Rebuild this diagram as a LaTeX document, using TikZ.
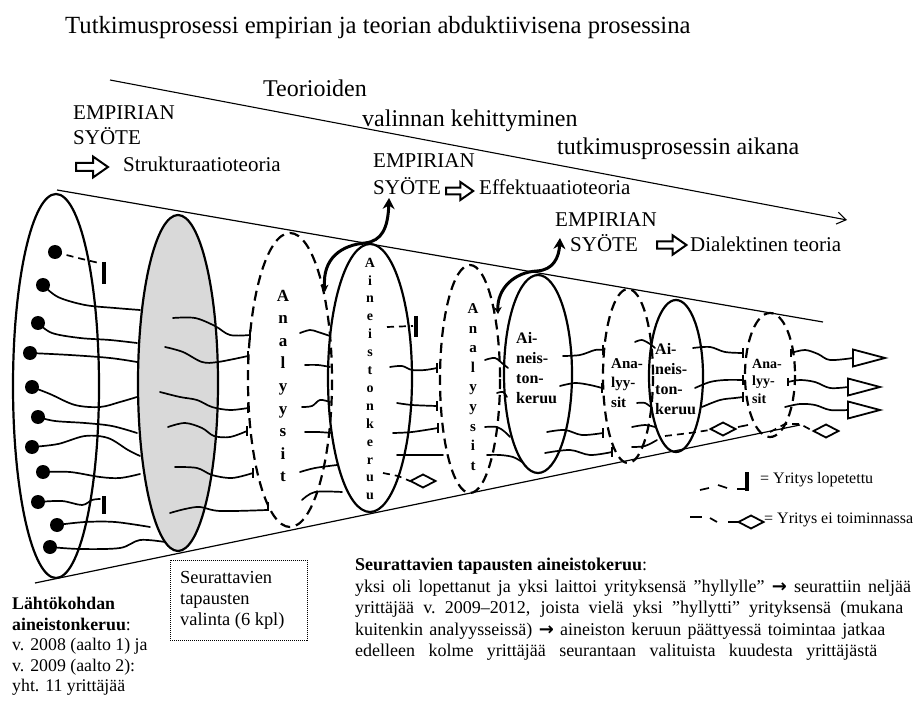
\documentclass[tikz,border=0pt]{standalone}
\usepackage{fontspec}
\setmainfont{Liberation Serif}
\newfontfamily\djv{DejaVu Sans}
\usetikzlibrary{arrows.meta}
\newcommand\fsz[2]{\fontsize{#1}{#2}\selectfont}
\newcommand\wigline[1]{\draw[wig] plot[smooth,tension=0.55] coordinates {#1};}
\newcommand\barrow{{\djv\bfseries\fontsize{18}{18}\selectfont →}}
\newcommand\jline[2][556pt]{\makebox[#1][s]{#2}}
\begin{document}
\begin{tikzpicture}[x=1pt,y=-1pt,
  cone/.style={line width=1.2pt},
  sell/.style={line width=2.2pt},
  dell/.style={line width=2.2pt, dash pattern=on 10pt off 6pt},
  wig/.style={line width=1.7pt, line cap=round, line join=round},
  dwig/.style={line width=1.7pt, dash pattern=on 7pt off 5pt},
  tbar/.style={line width=1.7pt},
  hbar/.style={line width=3.5pt},
  curv/.style={line width=3pt, {Stealth[length=7pt,width=8pt]}-{Stealth[length=11pt,width=12pt]}},
  lbl/.style={anchor=base west, inner sep=0pt, font=\fsz{21}{25}},
  big/.style={anchor=base west, inner sep=0pt, font=\fsz{24}{28}},
  diam/.pic={\draw[line width=1.8pt, line join=miter] (-12.5,0)--(0,-6.5)--(12.5,0)--(0,6.5)--cycle;},
  tri/.pic={\draw[line width=1.8pt, line join=miter] (0,-8.5)--(32,0)--(0,8.5)--cycle;},
  barr/.pic={\draw[line width=2pt, line join=miter] (0,-4)--(17,-4)--(17,-10.5)--(32,0)--(17,10.5)--(17,4)--(0,4)--cycle;}
]
\useasboundingbox (0,0) rectangle (921,703);

% title
\node[anchor=base west, inner sep=0pt, font=\fsz{24.7}{30}] (title) at (65,34) {Tutkimusprosessi empirian ja teorian abduktiivisena prosessina};

% top arrow and cone lines
\coordinate (ta0) at (110,80); \coordinate (ta1) at (847,220);
\draw[line width=1.1pt, -{Straight Barb[length=9pt,width=12pt]}] (ta0) -- (ta1);
\coordinate (cu0) at (57,190); \coordinate (cu1) at (823,322);
\coordinate (cl0) at (35,583); \coordinate (cl1) at (800,425);
\draw[cone] (cu0) -- (cu1);
\draw[cone] (cl0) -- (cl1);

% labels on top
\node[lbl] (emp1) at (73,120) {EMPIRIAN};
\node[lbl] (sy1) at (73,145) {SYÖTE};
\pic at (76,167) {barr};
\node[lbl] (str) at (123,172) {Strukturaatioteoria};
\node[big] (teo) at (263,97) {Teorioiden};
\node[big] (val) at (362,127) {valinnan kehittyminen};
\node[big] (tut) at (557,155) {tutkimusprosessin aikana};
\node[lbl] (emp2) at (373,168) {EMPIRIAN};
\node[lbl] (sy2) at (373,195) {SYÖTE};
\pic[scale=0.85] at (446,191) {barr};
\node[lbl] (eff) at (479,195) {Effektuaatioteoria};
\node[lbl] (emp3) at (555,227) {EMPIRIAN};
\node[lbl] (sy3) at (570,252) {SYÖTE};
\pic[scale=0.92] at (657,245) {barr};
\node[lbl] (dia) at (690,252) {Dialektinen teoria};

% grey fill
\fill[black!15] (178,383) ellipse [x radius=40, y radius=168];

% dots and lines from the first ellipse
\foreach \p in {(55,252),(43,285),(38,323),(30,353),(32,387),(38,417),(32,447),(43,472),(38,502),(57,525),(50,547)}
  \fill \p circle (7);
\draw[dwig] (55,252) -- (78,258) -- (99,263);
\draw[hbar] (104,262) -- (104,284);
\wigline{(43,285) (58,297) (85,305) (115,308) (140,310)}
\wigline{(38,323) (52,333) (80,338) (110,340) (137,343)}
\wigline{(30,353) (70,355) (110,358) (137,362)}
\wigline{(32,387) (50,394) (75,405) (100,407) (120,402) (137,397)}
\wigline{(38,417) (55,421) (85,423) (112,426) (137,433)}
\wigline{(32,447) (58,444) (85,436) (108,438) (128,450) (140,456)}
\wigline{(43,472) (70,472) (100,477) (120,478) (140,474)}
\wigline{(38,502) (62,501) (82,505) (92,500) (100,499)}
\draw[hbar] (104,496) -- (104,514);
\wigline{(57,525) (85,522) (115,522) (150,527)}
\wigline{(50,547) (80,549) (120,548) (140,540) (165,542)}

% grey -> first analysis
\wigline{(173,318) (195,318) (215,326) (230,335) (250,335)}
\wigline{(165,347) (183,352) (202,362) (218,362) (248,356)}
\wigline{(160,392) (180,397) (197,400) (212,407) (230,410) (248,408)}
\wigline{(168,427) (185,423) (202,428) (214,436) (230,437) (247,431)}
\wigline{(175,467) (197,468) (212,475) (232,478) (253,473)}
\wigline{(170,513) (185,509) (200,507) (220,511) (267,510)}
\foreach \x/\y in {250/335,248/356,248/408,247/431,253/473}
  \draw[tbar] (\x,\y-5) -- (\x,\y+5);
\draw[tbar] (268,502) -- (268,511);

% first analysis -> data collection
\wigline{(300,333) (310,330) (318,332) (330,336)}
\wigline{(305,365) (318,365) (330,367)}
\wigline{(302,407) (312,406) (320,400) (330,402)}
\wigline{(305,432) (318,432) (332,433)}
\wigline{(300,472) (315,468) (337,465)}
\wigline{(302,500) (315,492) (342,492)}

% data collection -> second analysis
\draw[dwig] (387,327) -- (413,326);
\draw[hbar] (416,316) -- (416,337);
\wigline{(390,367) (402,366) (412,370) (425,370) (437,368)}
\wigline{(397,403) (412,405) (437,406)}
\wigline{(393,433) (412,432) (438,428)}
\wigline{(397,455) (420,455) (443,455)}
\foreach \x/\y in {437/368,437/406,438/428}
  \draw[tbar] (\x,\y-5) -- (\x,\y+5);
\draw[dwig] (383,473) -- (398,476) -- (410,481);
\pic at (423,481) {diam};

% second analysis -> Ai-neis-ton-keruu 1
\wigline{(485,360) (495,358) (503,364) (508,368)}
\wigline{(497,393) (503,392) (507,397)}
\wigline{(485,427) (497,427) (505,432) (510,437)}
\wigline{(487,455) (500,455) (513,457) (522,462)}

% Ai-neis-ton-keruu 1 -> Ana-lyy-sit 1
\wigline{(563,356) (580,355) (595,350) (603,350)}
\wigline{(560,386) (575,383) (590,385) (602,388)}
\wigline{(547,432) (565,430) (582,435) (603,433)}
\wigline{(545,453) (570,450) (590,455) (612,452)}
\foreach \x/\y in {603/350,602/388,603/433,612/452}
  \draw[tbar] (\x,\y-5) -- (\x,\y+5);

% Ana-lyy-sit 1 -> Ai-neis-ton-keruu 2
\wigline{(635,342) (642,340) (650,344) (655,348)}
\wigline{(637,403) (645,403) (652,408)}
\wigline{(632,427) (645,425) (655,427)}
\wigline{(632,447) (645,446) (657,440)}
\draw[dwig] (665,436) -- (690,433) -- (710,430);
\pic at (723,429) {diam};
\draw[line width=1.7pt] (738,427) -- (748,425);

% Ai-neis-ton-keruu 2 -> Ana-lyy-sit 2
\wigline{(693,348) (710,347) (725,352) (743,353)}
\wigline{(695,388) (710,382) (725,380) (743,380)}
\wigline{(702,407) (720,400) (735,398) (743,397)}
\foreach \x/\y in {743/353,743/380,743/397}
  \draw[tbar] (\x,\y-5) -- (\x,\y+5);

% outputs
\draw[tbar] (791,349) -- (791,357);
\draw[tbar] (788,378) -- (788,386);
\wigline{(791,353) (805,350) (818,354) (830,360) (853,358)}
\wigline{(788,382) (800,380) (815,382) (830,388) (848,387)}
\wigline{(785,407) (800,404) (815,405) (830,410) (848,410)}
\pic at (853,358) {tri};
\pic at (848,387) {tri};
\pic at (848,410) {tri};
\draw[dwig] (770,432) -- (785,424) -- (800,424) -- (813,431);
\pic at (826,431) {diam};

% ellipse outlines
\draw[sell] (56,386) ellipse [x radius=43, y radius=192];
\draw[sell] (178,383) ellipse [x radius=40, y radius=168];
\draw[dell] (290,380) ellipse [x radius=42, y radius=147];
\draw[sell] (370,378) ellipse [x radius=42, y radius=134];
\draw[dell] (470,379) ellipse [x radius=30, y radius=114];
\draw[sell] (538,374) ellipse [x radius=34, y radius=99];
\draw[dell] (628,376) ellipse [x radius=25, y radius=87];
\draw[sell] (676,376) ellipse [x radius=27, y radius=76];
\draw[dell] (770,375) ellipse [x radius=25, y radius=62];

% ellipse texts
\node[align=center, inner sep=0pt, font=\bfseries\fsz{17}{22.6}] (an1) at (283,386) {A\\n\\a\\l\\y\\y\\s\\i\\t};
\node[align=center, inner sep=0pt, font=\bfseries\fsz{14}{17.9}] (ak1) at (370,379) {A\\i\\n\\e\\i\\s\\t\\o\\n\\k\\e\\r\\u\\u};
\node[align=center, inner sep=0pt, font=\bfseries\fsz{15}{19.6}] (an2) at (473,387) {A\\n\\a\\l\\y\\y\\s\\i\\t};
\node[anchor=west, align=left, inner sep=0pt, font=\bfseries\fsz{16}{19.7}] (ak2) at (516,368) {Ai-\\neis-\\ton-\\keruu};
\node[anchor=west, align=left, inner sep=0pt, font=\bfseries\fsz{15}{19.5}] (an3) at (611,383) {Ana-\\lyy-\\sit};
\node[anchor=west, align=left, inner sep=0pt, font=\bfseries\fsz{16}{20}] (ak3) at (655,379) {Ai-\\neis-\\ton-\\keruu};
\node[anchor=west, align=left, inner sep=0pt, font=\bfseries\fsz{14}{17.5}] (an4) at (752,381) {Ana-\\lyy-\\sit};

% curved arrows
\coordinate (ca1s) at (325,292); \coordinate (ca1e) at (389,198);
\draw[curv] (ca1s) .. controls (322,258) and (342,245) .. (365,243) .. controls (382,241) and (388,228) .. (ca1e);
\coordinate (ca2s) at (498,314); \coordinate (ca2e) at (560,238);
\draw[curv] (ca2s) .. controls (497,288) and (515,272) .. (537,271) .. controls (553,270) and (559,258) .. (ca2e);

% legend
\draw[line width=1.7pt] (700,490) -- (709,488);
\draw[line width=1.7pt] (718,485) -- (727,488);
\draw[line width=1.7pt] (737,489) -- (747,489);
\draw[hbar] (747,472) -- (747,491);
\node[anchor=west, inner sep=0pt, font=\fsz{16}{19}] (lg1) at (760,480) {= Yritys lopetettu};
\draw[line width=1.7pt] (690,517) -- (702,517);
\draw[line width=1.7pt] (710,518) -- (717,522);
\draw[line width=1.7pt] (728,522) -- (739,522);
\pic at (751,522) {diam};
\node[anchor=west, inner sep=0pt, font=\fsz{16}{19}] (lg2) at (764,520) {= Yritys ei toiminnassa};

% bottom texts
\node[anchor=north west, align=left, inner sep=0pt, font=\fsz{17.8}{20.5}] (lk) at (12,597)
  {\textbf{Lähtökohdan}\\\textbf{aineistonkeruu}:\\v. 2008 (aalto 1) ja\\v. 2009 (aalto 2):\\yht. 11 yrittäjää};
\node[draw, dash pattern=on 1pt off 1pt, line width=0.8pt, anchor=north west, inner sep=0pt, minimum width=137pt, minimum height=80pt] (selbox) at (170,560) {};
\node[anchor=north west, align=left, inner sep=0pt, font=\fsz{18.4}{21}] (seltxt) at (180,571)
  {Seurattavien\\tapausten\\valinta (6 kpl)};
\node[anchor=north west, align=left, inner sep=0pt, font=\fsz{18}{21.5}] (rtext) at (355,558)
  {\frenchspacing\textbf{Seurattavien tapausten aineistokeruu}:\\
   \jline{yksi oli lopettanut ja yksi laittoi yrityksensä ”hyllylle” \barrow{} seurattiin neljää}\\
   \jline[548pt]{yrittäjää v.\ 2009–2012, joista vielä yksi ”hyllytti” yrityksensä (mukana}\\
   \jline[530pt]{kuitenkin analyysseissä) \barrow{} aineiston keruun päättyessä toimintaa jatkaa}\\
   \jline[522pt]{edelleen kolme yrittäjää seurantaan valituista kuudesta yrittäjästä}};
\end{tikzpicture}
\end{document}
